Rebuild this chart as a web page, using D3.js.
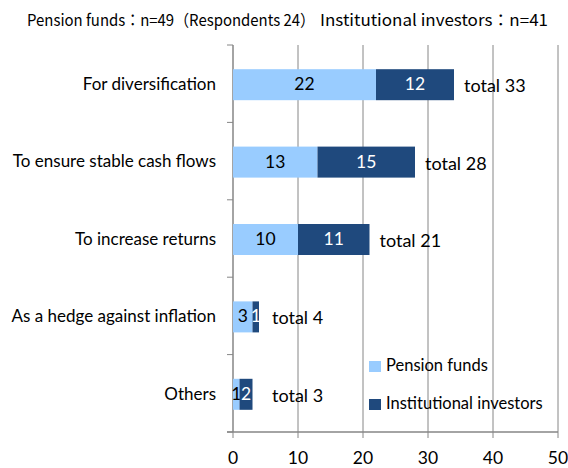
<!DOCTYPE html>
<html>
<head>
<meta charset="utf-8">
<script src="https://cdn.jsdelivr.net/npm/d3@7"></script>
<style>
  body { margin: 0; background: #fff; }
  text { font-family: Lato, "Open Sans", sans-serif; }
</style>
</head>
<body>
<div id="chart"></div>
<script>
// chart data
var categories = ["For diversification", "To ensure stable cash flows", "To increase returns",
                  "As a hedge against inflation", "Others"];
var pensionFunds = [22, 13, 10, 3, 1];
var institutional = [12, 15, 11, 1, 2];
var totalLabels = ["total 33", "total 28", "total 21", "total 4", "total 3"];
var seriesNames = ["Pension funds", "Institutional investors"];
var xTicks = [0, 10, 20, 30, 40, 50];

var W = 568, H = 468;
var colors = ["#99ccff", "#1f497d"];

var svg = d3.select("#chart").append("svg")
    .attr("width", W).attr("height", H);

var x = d3.scaleLinear().domain([0, 50]).range([233, 558]);
var band = d3.scaleBand().domain(categories).range([45, 432]);

// title (squeezed to the proportional width of the original gothic font)
svg.append("text").attr("x", 27).attr("y", 26)
    .style("font-family", "'Noto Sans CJK JP'").style("font-size", "16px")
    .attr("textLength", 288).attr("lengthAdjust", "spacingAndGlyphs")
    .text("Pension funds：n=49（Respondents 24）");
svg.append("text").attr("x", 320).attr("y", 26)
    .style("font-family", "'Noto Sans CJK JP'").style("font-size", "16px")
    .attr("textLength", 228).attr("lengthAdjust", "spacingAndGlyphs")
    .text("Institutional investors：n=41");

// vertical gridlines
svg.append("g").selectAll("line").data(xTicks.slice(1)).enter().append("line")
    .attr("x1", function(d){ return x(d); }).attr("x2", function(d){ return x(d); })
    .attr("y1", 45).attr("y2", 432)
    .attr("stroke", "#868686").attr("stroke-width", 1);

// y axis line + ticks
var yAxisG = svg.append("g");
yAxisG.append("line").attr("x1", 233).attr("x2", 233).attr("y1", 45).attr("y2", 432)
    .attr("stroke", "#868686").attr("stroke-width", 1.5);
var bounds = categories.map(function(c){ return band(c); }).concat([432]);
yAxisG.selectAll("line.tk").data(bounds).enter().append("line").attr("class", "tk")
    .attr("x1", 227).attr("x2", 233)
    .attr("y1", function(d){ return d; }).attr("y2", function(d){ return d; })
    .attr("stroke", "#868686");

// x axis line + ticks
svg.append("line").attr("x1", 227).attr("x2", 558).attr("y1", 432).attr("y2", 432)
    .attr("stroke", "#868686").attr("stroke-width", 1.5);
svg.append("g").selectAll("line").data(xTicks).enter().append("line")
    .attr("x1", function(d){ return x(d); }).attr("x2", function(d){ return x(d); })
    .attr("y1", 432).attr("y2", 438).attr("stroke", "#868686");
svg.append("g").selectAll("text").data(xTicks).enter().append("text")
    .attr("x", function(d){ return x(d); }).attr("y", 460)
    .attr("text-anchor", "middle").attr("dominant-baseline", "middle")
    .style("font-size", "17.5px").attr("fill", "#000")
    .text(function(d){ return d; });

// category labels
svg.append("g").selectAll("text").data(categories).enter().append("text")
    .attr("x", 216).attr("y", function(d){ return band(d) + band.bandwidth() / 2 + 2; })
    .attr("text-anchor", "end").attr("dominant-baseline", "middle")
    .style("font-size", "17px").text(function(d){ return d; });

// stacked bars
var rows = categories.map(function(c, i){
    return { cat: c, segs: [[0, pensionFunds[i]], [pensionFunds[i], pensionFunds[i] + institutional[i]]],
             vals: [pensionFunds[i], institutional[i]], total: totalLabels[i] };
});
var barH = 31;
rows.forEach(function(r){
    var cy = band(r.cat) + band.bandwidth() / 2 + 1;
    r.segs.forEach(function(s, k){
        svg.append("rect")
            .attr("x", x(s[0])).attr("y", cy - barH / 2)
            .attr("width", x(s[1]) - x(s[0])).attr("height", barH)
            .attr("fill", colors[k]);
        svg.append("text")
            .attr("x", (x(s[0]) + x(s[1])) / 2).attr("y", cy + 1)
            .attr("text-anchor", "middle").attr("dominant-baseline", "middle")
            .style("font-size", "17.5px").attr("fill", k === 0 ? "#000" : "#fff")
            .text(r.vals[k]);
    });
    var end = r.segs[1][1];
    svg.append("text")
        .attr("x", Math.max(x(end) + 10, x(6))).attr("y", cy + 3)
        .attr("dominant-baseline", "middle")
        .style("font-size", "18px").text(r.total);
});

// legend
var legend = svg.append("g");
seriesNames.forEach(function(n, i){
    var ly = 367 + i * 38;
    legend.append("rect").attr("x", 369).attr("y", ly - 6).attr("width", 12).attr("height", 11)
        .attr("fill", colors[i]);
    legend.append("text").attr("x", 386).attr("y", ly).attr("dominant-baseline", "middle")
        .style("font-size", "16.5px").text(n);
});
</script>
</body>
</html>
